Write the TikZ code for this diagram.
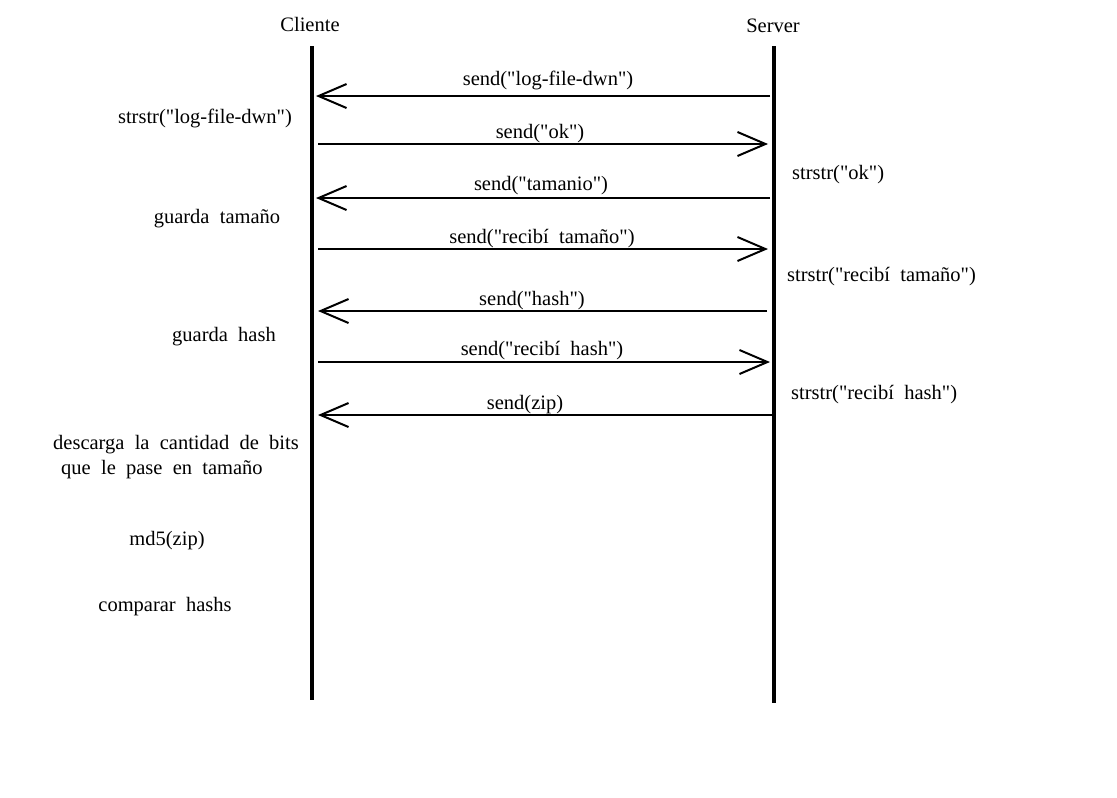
\documentclass[tikz,border=0pt]{standalone}
\usepackage{fontspec}
\setmainfont{Liberation Serif}[WordSpace=2,Ligatures=TeXOff]
\usetikzlibrary{arrows.meta}
\begin{document}
\begin{tikzpicture}[x=1pt,y=-1pt,
  txt/.style={inner sep=0pt, font=\fontsize{20.5}{24}\selectfont, text height=18pt, text depth=3pt},
  lifeline/.style={line width=4.5pt},
  msg/.style={line width=2pt, -{Straight Barb[length=28pt,width=24pt,line width=2pt]}, shorten >=-2pt}]
\useasboundingbox (0,0) rectangle (1117,798);
% lifelines
\coordinate (ctop) at (312,46); \coordinate (cbot) at (312,700);
\coordinate (stop) at (774,46); \coordinate (sbot) at (774,703);
\draw[lifeline] (ctop) -- (cbot);
\draw[lifeline] (stop) -- (sbot);
\node[txt] (cl) at (310,24) {Cliente};
\node[txt] (sv) at (773,25) {Server};
% message endpoints
\coordinate (s1) at (770,96);  \coordinate (c1) at (318,96);
\coordinate (c2) at (318,144); \coordinate (s2) at (766,144);
\coordinate (s3) at (770,198); \coordinate (c3) at (318,198);
\coordinate (c4) at (318,249); \coordinate (s4) at (766,249);
\coordinate (s5) at (767,311); \coordinate (c5) at (320,311);
\coordinate (c6) at (318,362); \coordinate (s6) at (768,362);
\coordinate (s7) at (772,415); \coordinate (c7) at (320,415);
\draw[msg] (s1) -- (c1);
\draw[msg] (c2) -- (s2);
\draw[msg] (s3) -- (c3);
\draw[msg] (c4) -- (s4);
\draw[msg] (s5) -- (c5);
\draw[msg] (c6) -- (s6);
\draw[msg] (s7) -- (c7);
% message labels
\node[txt] (m1) at (548,78) {send("log-file-dwn")};
\node[txt] (m2) at (540,131) {send("ok")};
\node[txt] (m3) at (541,183) {send("tamanio")};
\node[txt] (m4) at (542,236) {send("recibí tamaño")};
\node[txt] (m5) at (532,298) {send("hash")};
\node[txt] (m6) at (542,348) {send("recibí hash")};
\node[txt] (m7) at (525,402) {send(zip)};
% client notes
\node[txt] (n1) at (205,116) {strstr("log-file-dwn")};
\node[txt] (n2) at (217,216) {guarda tamaño};
\node[txt] (n3) at (224,334) {guarda hash};
\node[txt,anchor=west] (n4) at (53,442) {descarga la cantidad de bits};
\node[txt,anchor=west] (n5) at (61,467) {que le pase en tamaño};
\node[txt] (n6) at (167,538) {md5(zip)};
\node[txt] (n7) at (165,604) {comparar hashs};
% server notes
\node[txt,anchor=west] (r1) at (792,172) {strstr("ok")};
\node[txt,anchor=west] (r2) at (787,274) {strstr("recibí tamaño")};
\node[txt,anchor=west] (r3) at (791,392) {strstr("recibí hash")};
\end{tikzpicture}
\end{document}
